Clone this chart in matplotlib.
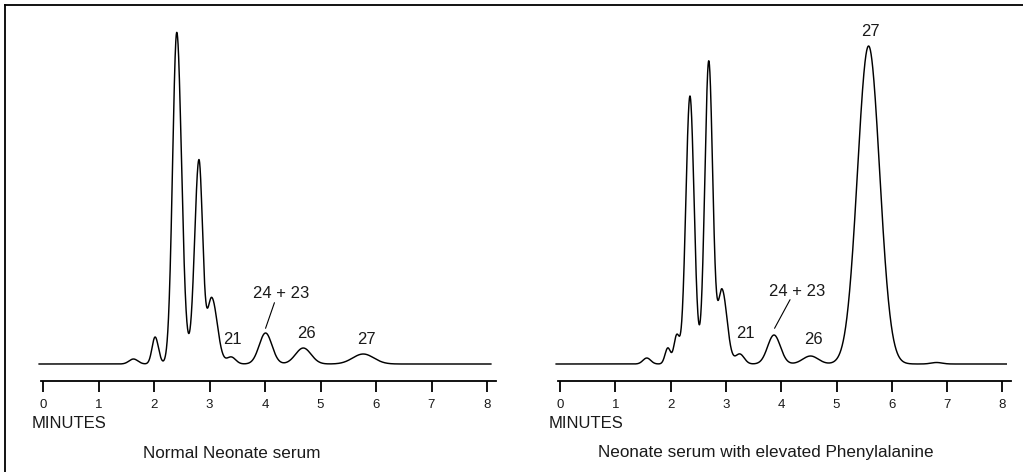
import numpy as np
import matplotlib
matplotlib.use("Agg")
import matplotlib.pyplot as plt
from matplotlib.lines import Line2D

plt.rcParams['font.family'] = ['Liberation Sans', 'DejaVu Sans']

# ---- Data (peak tables) ----
# Normal neonate serum: retention time (min), height (a.u.), left/right width (min)
normal_rt      = [1.63, 2.02, 2.41,  2.65, 2.81,  3.04, 3.39, 4.01,  4.69, 5.77]
normal_height  = [5,    27,   330,   6,    200,   66,   7,    31,    16,   10]
normal_sigma_l = [0.08, 0.055, 0.075, 0.15, 0.077, 0.08, 0.08, 0.115, 0.14, 0.19]
normal_sigma_r = [0.08, 0.06, 0.085, 0.15, 0.066, 0.10, 0.08, 0.115, 0.14, 0.19]

# Neonate serum with elevated phenylalanine
phe_rt      = [1.57, 1.95, 2.11, 2.35,  2.69,  2.93, 3.25, 3.87,  4.53, 5.58, 6.81]
phe_height  = [6,    16,   28,   268,   303,   74,   10,   29,    8,    318,  1.5]
phe_sigma_l = [0.07, 0.05, 0.05, 0.075, 0.072, 0.07, 0.08, 0.115, 0.14, 0.20, 0.1]
phe_sigma_r = [0.07, 0.05, 0.05, 0.075, 0.072, 0.09, 0.08, 0.115, 0.14, 0.20, 0.1]

tick_labels = ["0", "1", "2", "3", "4", "5", "6", "7", "8"]
time_range = (-0.07, 8.07)

# peak labels: text, x (min), y (a.u.), optional leader target
normal_labels = [("21", 3.42, 25, None), ("24 + 23", 4.29, 70, (4.01, 35.7)),
                 ("26", 4.74, 30, None), ("27", 5.83, 25, None)]
phe_labels = [("21", 3.35, 31, None), ("24 + 23", 4.28, 73, (3.88, 35.7)),
              ("26", 4.58, 24, None), ("27", 5.62, 332, None)]

captions = ["Normal Neonate serum", "Neonate serum with elevated Phenylalanine"]

W, H = 1023, 472
fig = plt.figure(figsize=(W / 100, H / 100), dpi=100)
TXT = '#1a1a1a'

def chrom(t, rts, hs, sl, sr):
    y = np.zeros_like(t)
    for r, h, a, b in zip(rts, hs, sl, sr):
        s = np.where(t < r, a, b)
        y += h * np.exp(-0.5 * ((t - r) / s) ** 2)
    return y

def make_panel(x0px, pxmin, rts, hs, sl, sr, labels, caption, cap_x):
    xlo, xhi = -0.2, 8.3
    left = x0px + xlo * pxmin
    width = (xhi - xlo) * pxmin
    axis_y = 381
    top_y = 20
    ax = fig.add_axes([left / W, 1 - axis_y / H, width / W, (axis_y - top_y) / H])
    ax.set_xlim(xlo, xhi)
    ax.set_ylim(-17, 344)
    t = np.linspace(time_range[0], time_range[1], 4000)
    ax.plot(t, chrom(t, rts, hs, sl, sr), color='black', lw=1.05)
    for s in ['top', 'right', 'left']:
        ax.spines[s].set_visible(False)
    ax.spines['bottom'].set_bounds(-0.04, 8.16)
    ax.spines['bottom'].set_linewidth(1.3)
    ax.set_yticks([])
    ax.set_xticks(range(len(tick_labels)))
    ax.set_xticklabels(tick_labels, fontsize=9.5, color=TXT)
    ax.tick_params(axis='x', direction='out', length=8, width=1.3, pad=5)
    for txt, x, y, tgt in labels:
        ax.text(x, y, txt, ha='center', va='center', fontsize=12, color=TXT)
        if tgt is not None:
            ax.annotate('', xy=tgt, xytext=(x - 0.12, y - 8.7),
                        arrowprops=dict(arrowstyle='-', lw=0.8, color='black',
                                        shrinkA=0, shrinkB=0))
    fig.text((x0px - 11) / W, 1 - 423 / H, "MINUTES", ha='left', va='center',
             fontsize=12, color=TXT)
    fig.text(cap_x / W, 1 - 453 / H, caption,
             ha='center', va='center', fontsize=12.3, color=TXT)
    return ax

make_panel(43, 55.5, normal_rt, normal_height, normal_sigma_l, normal_sigma_r,
           normal_labels, captions[0], 232)
make_panel(560, 55.3, phe_rt, phe_height, phe_sigma_l, phe_sigma_r,
           phe_labels, captions[1], 766)

# frame lines (top and left)
fig.add_artist(Line2D([5 / W, 1.0], [1 - 4.5 / H, 1 - 4.5 / H], color='black', lw=1.3,
                      transform=fig.transFigure))
fig.add_artist(Line2D([5 / W, 5 / W], [0, 1 - 4.5 / H], color='black', lw=1.3,
                      transform=fig.transFigure))

fig.savefig("out.png", dpi=100)
